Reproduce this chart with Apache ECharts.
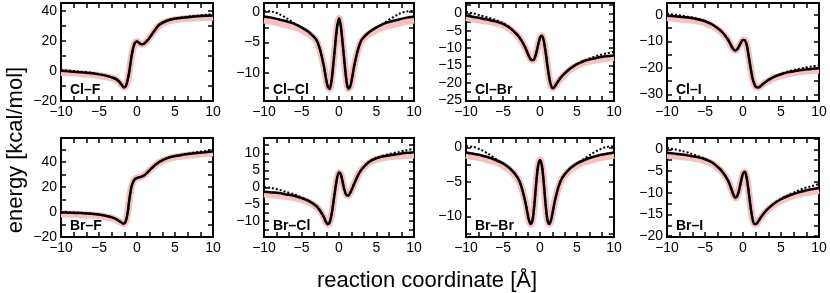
<!DOCTYPE html>
<html>
<head>
<meta charset="utf-8">
<script src="https://cdn.jsdelivr.net/npm/echarts@6/dist/echarts.min.js"></script>
<style>
  html, body { margin: 0; padding: 0; background: #fff; }
  #chart { width: 830px; height: 293px; }
</style>
</head>
<body>
<div id="chart"></div>
<script>
// reaction coordinate samples (Å)
const xs = [-10, -9, -8, -7, -6, -5, -4, -3, -2.5, -2, -1.75, -1.5, -1.25, -1, -0.75, -0.5, -0.25, 0,
  0.25, 0.5, 0.75, 1, 1.25, 1.5, 1.75, 2, 2.5, 3, 4, 5, 6, 7, 8, 9, 10];

// Cl–F
const clF_pink   = [-0.9, -1.2, -1.5, -1.9, -2.3, -2.9, -3.8, -5.2, -6.6, -9.3, -10.9, -10.3, -6.5, 0, 9.0, 15.5, 19.0, 19.8, 19.0, 18.0, 17.9, 18.6, 19.8, 21.3, 23.0, 24.7, 28.2, 30.8, 33.2, 34.3, 34.9, 35.3, 35.6, 35.8, 36.0];
const clF_solid  = [0.2, -0.2, -0.6, -1.0, -1.5, -2.2, -3.2, -4.8, -6.3, -9.2, -10.9, -10.3, -6.5, 0, 9.0, 15.5, 19.0, 19.8, 19.0, 18.0, 17.9, 18.6, 19.8, 21.3, 23.0, 24.8, 28.5, 31.2, 33.8, 35.0, 35.7, 36.2, 36.6, 36.9, 37.2];
const clF_dotted = [0.8, 0.4, -0.1, -0.6, -1.2, -2.0, -3.1, -4.8, -6.3, -9.2, -10.9, -10.3, -6.5, 0, 9.0, 15.5, 19.0, 19.8, 19.0, 18.0, 17.9, 18.6, 19.8, 21.3, 23.0, 24.8, 28.5, 31.2, 33.9, 35.2, 36.0, 36.6, 37.1, 37.6, 38.0];

// Cl–Cl
const clCl_pink   = [-1.3, -1.5, -1.8, -2.1, -2.4, -2.9, -3.6, -4.8, -6.4, -9.0, -10.8, -12.2, -12.6, -11.3, -8.5, -5.3, -2.4, -1.0, -2.4, -5.3, -8.5, -11.3, -12.6, -12.2, -10.8, -9.0, -6.4, -4.8, -3.6, -2.9, -2.4, -2.1, -1.8, -1.5, -1.3];
const clCl_solid  = [-0.7, -0.9, -1.2, -1.5, -1.9, -2.5, -3.3, -4.6, -6.3, -9.0, -10.8, -12.2, -12.6, -11.3, -8.5, -5.3, -2.4, -1.0, -2.4, -5.3, -8.5, -11.3, -12.6, -12.2, -10.8, -9.0, -6.3, -4.6, -3.3, -2.5, -1.9, -1.5, -1.2, -0.9, -0.7];
const clCl_dotted = [0.2, 0.1, -0.3, -1.0, -1.8, -2.5, -3.3, -4.6, -6.3, -9.0, -10.8, -12.2, -12.6, -11.3, -8.5, -5.3, -2.4, -1.0, -2.4, -5.3, -8.5, -11.3, -12.6, -12.2, -10.8, -9.0, -6.3, -4.6, -3.3, -2.5, -1.8, -1.0, -0.3, 0.1, 0.2];

// Cl–Br
const clBr_pink   = [-1.2, -1.6, -2.0, -2.3, -2.7, -3.4, -4.6, -6.5, -7.9, -9.8, -11.0, -12.3, -13.2, -13.5, -13.0, -11.3, -9.0, -7.0, -6.4, -7.8, -11.0, -15.0, -18.5, -20.8, -21.5, -21.0, -19.5, -18.2, -16.3, -15.0, -14.1, -13.6, -13.2, -12.9, -12.7];
const clBr_solid  = [-0.6, -1.0, -1.4, -1.8, -2.3, -3.0, -4.3, -6.3, -7.8, -9.8, -11.0, -12.3, -13.2, -13.5, -13.0, -11.3, -9.0, -7.0, -6.4, -7.8, -11.0, -15.0, -18.5, -20.8, -21.5, -21.0, -19.4, -18.0, -16.0, -14.6, -13.7, -13.1, -12.6, -12.3, -12.1];
const clBr_dotted = [0.4, 0.0, -0.6, -1.2, -1.9, -2.8, -4.2, -6.3, -7.8, -9.8, -11.0, -12.3, -13.2, -13.5, -13.0, -11.3, -9.0, -7.0, -6.4, -7.8, -11.0, -15.0, -18.5, -20.8, -21.5, -21.0, -19.4, -18.0, -16.0, -14.5, -13.5, -12.7, -12.0, -11.5, -11.0];

// Cl–I
const clI_pink   = [-1.1, -1.3, -1.6, -1.9, -2.3, -3.0, -4.2, -6.1, -7.5, -9.2, -10.5, -11.9, -13.0, -13.4, -12.9, -11.7, -10.3, -9.5, -9.6, -11.5, -15.5, -20.0, -23.8, -26.2, -27.3, -27.4, -26.5, -25.4, -23.9, -22.9, -22.2, -21.7, -21.3, -21.0, -20.8];
const clI_solid  = [-0.3, -0.5, -0.8, -1.1, -1.6, -2.4, -3.7, -5.8, -7.3, -9.2, -10.5, -11.9, -13.0, -13.4, -12.9, -11.7, -10.3, -9.5, -9.6, -11.5, -15.5, -20.0, -23.8, -26.2, -27.3, -27.4, -26.4, -25.2, -23.5, -22.4, -21.6, -21.1, -20.7, -20.4, -20.1];
const clI_dotted = [0.4, 0.1, -0.3, -0.8, -1.4, -2.3, -3.7, -5.8, -7.3, -9.2, -10.5, -11.9, -13.0, -13.4, -12.9, -11.7, -10.3, -9.5, -9.6, -11.5, -15.5, -20.0, -23.8, -26.2, -27.3, -27.4, -26.4, -25.2, -23.5, -22.3, -21.3, -20.6, -20.0, -19.5, -19.1];

// Br–F
const brF_pink   = [-1.5, -1.7, -1.9, -2.2, -2.5, -3.0, -4.0, -5.6, -7.0, -8.8, -9.3, -7.8, -1.5, 10.0, 19.5, 24.0, 26.3, 27.2, 27.6, 28.0, 28.6, 29.5, 30.8, 32.3, 33.8, 35.1, 37.7, 39.8, 42.4, 43.8, 44.7, 45.4, 46.0, 46.5, 47.0];
const brF_solid  = [-0.4, -0.6, -0.8, -1.1, -1.5, -2.1, -3.2, -5.0, -6.6, -8.6, -9.3, -7.8, -1.5, 10.0, 19.5, 24.0, 26.3, 27.2, 27.6, 28.0, 28.6, 29.5, 30.8, 32.3, 33.8, 35.3, 38.0, 40.2, 43.0, 44.6, 45.6, 46.4, 47.1, 47.7, 48.3];
const brF_dotted = [0.0, -0.2, -0.5, -0.9, -1.4, -2.1, -3.2, -5.0, -6.6, -8.6, -9.3, -7.8, -1.5, 10.0, 19.5, 24.0, 26.3, 27.2, 27.6, 28.0, 28.6, 29.5, 30.8, 32.3, 33.8, 35.3, 38.0, 40.2, 43.1, 44.7, 45.9, 46.9, 47.8, 48.6, 49.3];

// Br–Cl
const brCl_pink   = [-2.0, -2.2, -2.4, -2.7, -3.0, -3.6, -4.4, -5.8, -7.1, -8.9, -10.2, -10.9, -10.4, -8.2, -4.5, -0.6, 2.8, 4.4, 3.8, 1.4, -1.0, -2.3, -2.4, -1.6, -0.4, 0.9, 3.3, 5.1, 7.2, 8.3, 8.8, 9.1, 9.3, 9.5, 9.6];
const brCl_solid  = [-1.3, -1.5, -1.7, -2.1, -2.5, -3.2, -4.1, -5.6, -7.0, -8.9, -10.2, -10.9, -10.4, -8.2, -4.5, -0.6, 2.8, 4.4, 3.8, 1.4, -1.0, -2.3, -2.4, -1.6, -0.4, 0.9, 3.4, 5.3, 7.5, 8.6, 9.2, 9.6, 9.9, 10.2, 10.4];
const brCl_dotted = [0.1, -0.2, -0.7, -1.4, -2.1, -3.0, -4.1, -5.6, -7.0, -8.9, -10.2, -10.9, -10.4, -8.2, -4.5, -0.6, 2.8, 4.4, 3.8, 1.4, -1.0, -2.3, -2.4, -1.6, -0.4, 0.9, 3.4, 5.3, 7.6, 8.7, 9.4, 10.0, 10.5, 11.0, 11.4];

// Br–Br
const brBr_pink   = [-1.1, -1.3, -1.5, -1.8, -2.1, -2.6, -3.3, -4.6, -5.8, -7.8, -9.2, -10.5, -11.1, -10.5, -8.2, -5.0, -2.6, -1.8, -2.6, -5.0, -8.2, -10.5, -11.1, -10.5, -9.2, -7.8, -5.8, -4.6, -3.3, -2.6, -2.1, -1.8, -1.5, -1.3, -1.1];
const brBr_solid  = [-0.7, -0.9, -1.1, -1.4, -1.8, -2.3, -3.1, -4.4, -5.7, -7.8, -9.2, -10.5, -11.1, -10.5, -8.2, -5.0, -2.6, -1.8, -2.6, -5.0, -8.2, -10.5, -11.1, -10.5, -9.2, -7.8, -5.7, -4.4, -3.1, -2.3, -1.8, -1.4, -1.1, -0.9, -0.7];
const brBr_dotted = [0.2, 0.1, -0.3, -0.9, -1.6, -2.3, -3.1, -4.4, -5.7, -7.8, -9.2, -10.5, -11.1, -10.5, -8.2, -5.0, -2.6, -1.8, -2.6, -5.0, -8.2, -10.5, -11.1, -10.5, -9.2, -7.8, -5.7, -4.4, -3.1, -2.3, -1.6, -0.9, -0.3, 0.1, 0.2];

// Br–I
const brI_pink   = [-1.3, -1.5, -1.7, -1.9, -2.2, -2.6, -3.4, -4.8, -5.8, -7.1, -8.1, -9.3, -10.5, -11.2, -10.7, -9.3, -7.3, -5.6, -5.2, -6.8, -9.8, -13.3, -16.0, -17.2, -17.2, -16.6, -15.4, -14.4, -12.9, -11.8, -11.1, -10.5, -10.1, -9.8, -9.5];
const brI_solid  = [-0.8, -1.0, -1.2, -1.5, -1.8, -2.3, -3.1, -4.6, -5.7, -7.1, -8.1, -9.3, -10.5, -11.2, -10.7, -9.3, -7.3, -5.6, -5.2, -6.8, -9.8, -13.3, -16.0, -17.2, -17.2, -16.6, -15.3, -14.2, -12.6, -11.5, -10.7, -10.1, -9.6, -9.2, -8.9];
const brI_dotted = [0.3, 0.0, -0.4, -0.9, -1.5, -2.2, -3.1, -4.6, -5.7, -7.1, -8.1, -9.3, -10.5, -11.2, -10.7, -9.3, -7.3, -5.6, -5.2, -6.8, -9.8, -13.3, -16.0, -17.2, -17.2, -16.6, -15.3, -14.2, -12.6, -11.4, -10.5, -9.7, -9.0, -8.5, -8.0];

// tick values
const xLabels = [-10, -5, 0, 5, 10];
const xTicks = [-10, -25 / 3, -20 / 3, -5, -10 / 3, -5 / 3, 0, 5 / 3, 10 / 3, 5, 20 / 3, 25 / 3, 10];

const panels = [
  { label: 'Cl–F',  pink: clF_pink,  solid: clF_solid,  dotted: clF_dotted,  yMin: -20, yMax: 45.5,
    yLabels: [-20, 0, 20, 40], yTicks: [-20, -10, 0, 10, 20, 30, 40] },
  { label: 'Cl–Cl', pink: clCl_pink, solid: clCl_solid, dotted: clCl_dotted, yMin: -14.6, yMax: 1.5,
    yLabels: [-10, -5, 0], yTicks: [-12.5, -10, -7.5, -5, -2.5, 0] },
  { label: 'Cl–Br', pink: clBr_pink, solid: clBr_solid, dotted: clBr_dotted, yMin: -25.2, yMax: 3,
    yLabels: [-25, -20, -15, -10, -5, 0], yTicks: [-25, -22.5, -20, -17.5, -15, -12.5, -10, -7.5, -5, -2.5, 0, 2.5] },
  { label: 'Cl–I',  pink: clI_pink,  solid: clI_solid,  dotted: clI_dotted,  yMin: -32.5, yMax: 4.5,
    yLabels: [-30, -20, -10, 0], yTicks: [-30, -25, -20, -15, -10, -5, 0] },
  { label: 'Br–F',  pink: brF_pink,  solid: brF_solid,  dotted: brF_dotted,  yMin: -20, yMax: 59,
    yLabels: [-20, 0, 20, 40], yTicks: [-20, -10, 0, 10, 20, 30, 40, 50] },
  { label: 'Br–Cl', pink: brCl_pink, solid: brCl_solid, dotted: brCl_dotted, yMin: -14.7, yMax: 14.6,
    yLabels: [-10, -5, 0, 5, 10], yTicks: [-12.5, -10, -7.5, -5, -2.5, 0, 2.5, 5, 7.5, 10, 12.5] },
  { label: 'Br–Br', pink: brBr_pink, solid: brBr_solid, dotted: brBr_dotted, yMin: -13, yMax: 1.4,
    yLabels: [-10, -5, 0], yTicks: [-12.5, -10, -7.5, -5, -2.5, 0] },
  { label: 'Br–I',  pink: brI_pink,  solid: brI_solid,  dotted: brI_dotted,  yMin: -20.2, yMax: 2.6,
    yLabels: [-20, -15, -10, -5, 0], yTicks: [-20, -17.5, -15, -12.5, -10, -7.5, -5, -2.5, 0, 2.5] }
];

// panel boxes: [left, top, width, height]
const boxes = [
  [61, 3, 152, 98], [264, 3, 150, 98], [466, 3, 148, 98], [667, 3, 152, 98],
  [61, 138, 152, 99], [264, 138, 150, 99], [466, 138, 148, 99], [667, 138, 152, 99]
];

const FONT = '"Liberation Sans", Arial, Helvetica, sans-serif';
const fmt = v => {
  const r = Math.round(v * 100) / 100;
  return r < 0 ? '\u2212' + Math.abs(r) : String(r);
};

const grid = [], xAxis = [], yAxis = [], series = [], graphic = [];

panels.forEach((p, i) => {
  const [left, top, width, height] = boxes[i];
  grid.push({ left, top, width, height, show: true, borderColor: '#000', borderWidth: 2, backgroundColor: 'transparent' });

  const noLine = { show: false, onZero: false };
  const tick = vals => ({ show: true, inside: true, length: 5, customValues: vals, lineStyle: { color: '#000', width: 1.5 } });
  const label = vals => ({ show: true, customValues: vals, formatter: fmt, color: '#000', fontSize: 14, fontFamily: FONT, margin: 4 });

  xAxis.push({ type: 'value', gridIndex: i, min: -10, max: 10, axisLine: noLine, splitLine: { show: false },
    axisTick: tick(xTicks), axisLabel: label(xLabels) });
  xAxis.push({ type: 'value', gridIndex: i, position: 'top', min: -10, max: 10, axisLine: noLine, splitLine: { show: false },
    axisTick: tick(xTicks), axisLabel: { show: false } });
  yAxis.push({ type: 'value', gridIndex: i, min: p.yMin, max: p.yMax, axisLine: noLine, splitLine: { show: false },
    axisTick: tick(p.yTicks), axisLabel: label(p.yLabels) });
  yAxis.push({ type: 'value', gridIndex: i, position: 'right', min: p.yMin, max: p.yMax, axisLine: noLine, splitLine: { show: false },
    axisTick: tick(p.yTicks), axisLabel: { show: false } });

  const pts = arr => xs.map((x, k) => [x, arr[k]]);
  const base = { type: 'line', xAxisIndex: 2 * i, yAxisIndex: 2 * i, showSymbol: false, smooth: 0.3, silent: true, animation: false };
  series.push({ ...base, data: pts(p.pink), z: 1, lineStyle: { color: '#f8c0c0', width: 7 } });
  series.push({ ...base, data: pts(p.solid), z: 2, lineStyle: { color: '#000', width: 2.5 } });
  series.push({ ...base, data: pts(p.dotted), z: 3, lineStyle: { color: '#000', width: 2, type: [2, 2] } });

  graphic.push({ type: 'text', left: left + 9, top: top + height - 18,
    style: { text: p.label, font: 'bold 14px ' + FONT, fill: '#000' } });
});

graphic.push({ type: 'text', x: 16, y: 150, rotation: Math.PI / 2,
  style: { text: 'energy [kcal/mol]', font: '22px ' + FONT, fill: '#000', align: 'center', verticalAlign: 'middle' } });
graphic.push({ type: 'text', x: 427, y: 281,
  style: { text: 'reaction coordinate [Å]', font: '22px ' + FONT, fill: '#000', align: 'center', verticalAlign: 'middle' } });

const chart = echarts.init(document.getElementById('chart'), null, { renderer: 'canvas' });
chart.setOption({ animation: false, grid, xAxis, yAxis, series, graphic });
</script>
</body>
</html>
